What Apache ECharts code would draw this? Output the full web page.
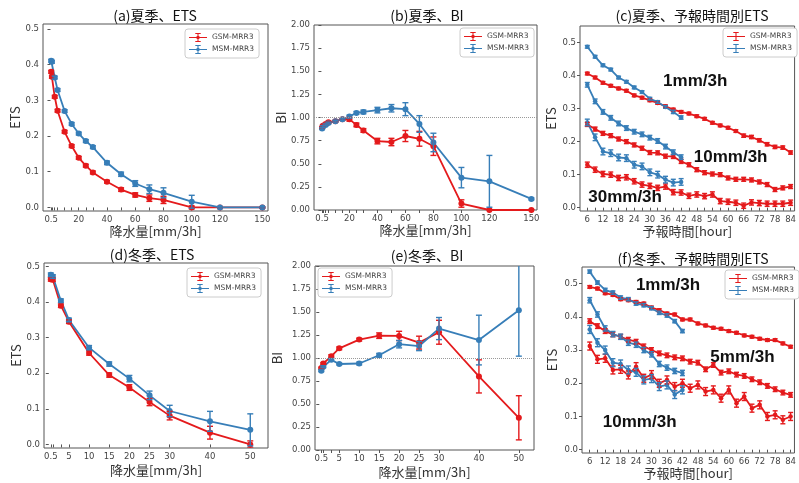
<!DOCTYPE html>
<html><head><meta charset="utf-8">
<script src="https://cdn.jsdelivr.net/npm/echarts@6/dist/echarts.min.js"></script>
<style>html,body{margin:0;padding:0;background:#fff}#c{width:799px;height:483px}</style>
</head><body><div id="c"></div>
<script>
// ---------- data ----------
const thrSummer = [0.5,1,3,5,10,15,20,25,30,40,50,60,70,80,100,120,150];
const thrWinter = [0.5,1,3,5,10,15,20,25,30,40,50];
const labelsSummerX = [0.5,20,40,60,80,100,120,150];
const labelsWinterX = [0.5,5,10,15,20,25,30,40,50];
const etsTicks = [0,0.1,0.2,0.3,0.4,0.5];
const biTicks = [0,0.25,0.5,0.75,1,1.25,1.5,1.75,2];
const hoursGSM = [6,9,12,15,18,21,24,27,30,33,36,39,42,45,48,51,54,57,60,63,66,69,72,75,78,81,84];
const hoursMSM = [6,9,12,15,18,21,24,27,30,33,36,39,42];
const hourLabels = [6,12,18,24,30,36,42,48,54,60,66,72,78,84];

// (a) summer ETS
const aGSM = [0.380,0.366,0.310,0.271,0.212,0.172,0.139,0.117,0.098,0.072,0.050,0.035,0.026,0.021,0.0,0.0,0.0];
const aGSMerr = [0.004,0.004,0.004,0.004,0.004,0.004,0.004,0.004,0.004,0.004,0.005,0.006,0.009,0.010,0.004,0.002,0.002];
const aMSM = [0.411,0.408,0.364,0.329,0.270,0.234,0.207,0.186,0.169,0.125,0.093,0.067,0.051,0.041,0.016,0.0,0.0];
const aMSMerr = [0.004,0.004,0.004,0.004,0.004,0.004,0.004,0.004,0.004,0.005,0.006,0.008,0.012,0.014,0.018,0.002,0.002];
// (b) summer BI
const bGSM = [0.89,0.91,0.93,0.95,0.96,0.98,0.98,0.92,0.86,0.745,0.735,0.80,0.77,0.69,0.07,0.0,0.0];
const bGSMerr = [0.01,0.01,0.01,0.01,0.01,0.01,0.02,0.02,0.02,0.03,0.04,0.06,0.08,0.10,0.04,0.005,0.005];
const bMSM = [0.88,0.90,0.92,0.94,0.96,0.98,1.01,1.05,1.06,1.08,1.10,1.09,0.93,0.73,0.35,0.31,0.12];
const bMSMerr = [0.01,0.01,0.01,0.01,0.01,0.01,0.015,0.015,0.02,0.03,0.04,0.07,0.09,0.10,0.11,0.28,0.01];
// (c) summer ETS by lead time
const cGSM1 = [0.406,0.394,0.378,0.369,0.361,0.354,0.340,0.333,0.325,0.317,0.307,0.297,0.290,0.285,0.277,0.269,0.257,0.249,0.242,0.232,0.218,0.214,0.204,0.192,0.184,0.182,0.167];
const cGSM1err = [0.004,0.004,0.004,0.004,0.004,0.004,0.004,0.004,0.004,0.004,0.004,0.004,0.004,0.004,0.004,0.004,0.004,0.004,0.004,0.004,0.005,0.005,0.005,0.005,0.005,0.005,0.005];
const cGSM10 = [0.252,0.238,0.225,0.218,0.208,0.200,0.190,0.180,0.167,0.166,0.156,0.155,0.140,0.130,0.115,0.106,0.102,0.100,0.090,0.086,0.086,0.084,0.078,0.070,0.055,0.060,0.064];
const cGSM10err = [0.006,0.006,0.006,0.006,0.006,0.006,0.006,0.006,0.006,0.006,0.006,0.006,0.006,0.006,0.006,0.006,0.006,0.006,0.006,0.006,0.006,0.006,0.006,0.006,0.006,0.006,0.006];
const cGSM30 = [0.130,0.115,0.102,0.100,0.090,0.092,0.080,0.070,0.066,0.060,0.064,0.047,0.046,0.036,0.040,0.035,0.040,0.020,0.018,0.015,0.006,0.016,0.014,0.012,0.012,0.012,0.015];
const cGSM30err = [0.008,0.008,0.008,0.008,0.008,0.008,0.008,0.008,0.008,0.008,0.008,0.008,0.008,0.008,0.008,0.008,0.008,0.008,0.008,0.008,0.008,0.008,0.008,0.008,0.008,0.008,0.008];
const cMSM1 = [0.487,0.457,0.431,0.418,0.394,0.381,0.364,0.350,0.330,0.320,0.305,0.290,0.273];
const cMSM1err = [0.004,0.004,0.004,0.004,0.004,0.004,0.004,0.004,0.004,0.004,0.004,0.005,0.005];
const cMSM10 = [0.372,0.322,0.290,0.272,0.255,0.241,0.230,0.222,0.212,0.202,0.185,0.168,0.153];
const cMSM10err = [0.007,0.007,0.007,0.007,0.007,0.007,0.007,0.007,0.007,0.007,0.007,0.007,0.007];
const cMSM30 = [0.258,0.213,0.170,0.165,0.152,0.150,0.130,0.125,0.107,0.100,0.085,0.076,0.078];
const cMSM30err = [0.010,0.010,0.010,0.010,0.010,0.010,0.010,0.010,0.010,0.010,0.010,0.010,0.010];
// (d) winter ETS
const dGSM = [0.464,0.463,0.390,0.345,0.257,0.195,0.160,0.119,0.081,0.033,0.0];
const dGSMerr = [0.005,0.005,0.005,0.005,0.006,0.006,0.008,0.010,0.012,0.018,0.010];
const dMSM = [0.477,0.472,0.404,0.350,0.272,0.226,0.185,0.138,0.094,0.065,0.041];
const dMSMerr = [0.005,0.005,0.005,0.005,0.006,0.006,0.009,0.012,0.016,0.028,0.045];
// (e) winter BI
const eGSM = [0.89,0.94,1.02,1.105,1.20,1.243,1.24,1.167,1.28,0.80,0.35];
const eGSMerr = [0.01,0.01,0.015,0.015,0.015,0.03,0.05,0.07,0.13,0.18,0.24];
const eMSM = [0.862,0.905,0.98,0.935,0.94,1.03,1.15,1.13,1.32,1.195,1.52];
const eMSMerr = [0.01,0.01,0.015,0.01,0.015,0.02,0.04,0.05,0.12,0.27,0.50];
// (f) winter ETS by lead time
const fGSM1 = [0.490,0.485,0.471,0.466,0.453,0.450,0.445,0.440,0.428,0.420,0.410,0.407,0.392,0.392,0.380,0.374,0.367,0.364,0.357,0.352,0.344,0.340,0.334,0.330,0.330,0.320,0.310];
const fGSM1err = [0.004,0.004,0.004,0.004,0.004,0.004,0.004,0.004,0.004,0.004,0.004,0.004,0.004,0.004,0.004,0.004,0.004,0.004,0.004,0.004,0.004,0.004,0.004,0.004,0.004,0.004,0.004];
const fGSM5 = [0.387,0.372,0.357,0.347,0.340,0.331,0.325,0.311,0.300,0.290,0.284,0.278,0.275,0.265,0.262,0.242,0.255,0.232,0.236,0.226,0.222,0.212,0.203,0.192,0.182,0.172,0.165];
const fGSM5err = [0.007,0.007,0.007,0.007,0.007,0.007,0.007,0.007,0.007,0.007,0.007,0.007,0.007,0.007,0.007,0.007,0.007,0.007,0.007,0.007,0.007,0.007,0.007,0.007,0.007,0.007,0.007];
const fGSM10 = [0.312,0.272,0.275,0.240,0.242,0.225,0.250,0.215,0.226,0.200,0.210,0.190,0.200,0.185,0.195,0.175,0.180,0.155,0.180,0.140,0.160,0.125,0.135,0.100,0.105,0.090,0.100];
const fGSM10err = [0.012,0.012,0.012,0.012,0.012,0.012,0.012,0.012,0.012,0.012,0.012,0.012,0.012,0.012,0.012,0.012,0.012,0.012,0.012,0.012,0.012,0.012,0.012,0.012,0.012,0.012,0.012];
const fMSM1 = [0.536,0.503,0.481,0.473,0.458,0.453,0.440,0.435,0.426,0.412,0.404,0.387,0.357];
const fMSM1err = [0.005,0.005,0.005,0.005,0.005,0.005,0.005,0.005,0.005,0.005,0.005,0.005,0.005];
const fMSM5 = [0.450,0.407,0.365,0.348,0.340,0.322,0.316,0.300,0.287,0.258,0.247,0.237,0.231];
const fMSM5err = [0.008,0.008,0.008,0.008,0.008,0.008,0.008,0.008,0.008,0.008,0.008,0.008,0.008];
const fMSM10 = [0.362,0.322,0.300,0.262,0.258,0.240,0.233,0.210,0.214,0.190,0.195,0.166,0.180];
const fMSM10err = [0.012,0.012,0.012,0.012,0.012,0.012,0.012,0.012,0.012,0.012,0.012,0.012,0.012];

const titles = ['(a)夏季、ETS','(b)夏季、BI','(c)夏季、予報時間別ETS','(d)冬季、ETS','(e)冬季、BI','(f)冬季、予報時間別ETS'];
const GSM = 'GSM-MRR3', MSM = 'MSM-MRR3';

// ---------- styling / layout ----------
const RED = '#e41a1c', BLUE = '#377eb8';
const AX = '#555', TXT = '#444';
const CJK = '"Noto Sans CJK JP", "Noto Sans", sans-serif';
const NUM = '"DejaVu Sans", sans-serif';

const grids = [
  {left:43, top:24, width:225, height:187},
  {left:314, top:25, width:223, height:185},
  {left:580, top:26, width:219, height:185},
  {left:44, top:263, width:224, height:185},
  {left:315, top:266, width:219, height:184},
  {left:582, top:267, width:217, height:186}
];
const xr = [[-5.3,154],[-5.3,154],[3.2,85.53],[-1.19,54.4],[-1.08,53.8],[3.0,85.5]];
const yr = [[-0.01,0.514],[0,2],[-0.01,0.55],[-0.01,0.51],[0,2],[-0.01,0.55]];
const xTicks = [thrSummer,thrSummer,hoursGSM,thrWinter,thrWinter,hoursGSM];
const xLabels = [labelsSummerX,labelsSummerX,hourLabels,labelsWinterX,labelsWinterX,hourLabels];
const yTicks = [etsTicks,biTicks,etsTicks,etsTicks,biTicks,etsTicks];
const yNames = ['ETS','BI','ETS','ETS','BI','ETS'];
const yGaps = [21,26,22,21,31,23];
const xNames = ['降水量[mm/3h]','降水量[mm/3h]','予報時間[hour]','降水量[mm/3h]','降水量[mm/3h]','予報時間[hour]'];
const xGaps = [11,11,11,16,16,12];

const xAxis = grids.map((g,i)=>({
  type:'value', gridIndex:i, min:xr[i][0], max:xr[i][1],
  axisLine:{show:false}, splitLine:{show:false},
  axisTick:{show:true, length:3, lineStyle:{color:AX}, customValues:xTicks[i]},
  axisLabel:{customValues:xLabels[i], fontSize:8.5, color:TXT, fontFamily:NUM, margin:4},
  name:xNames[i], nameLocation:'middle', nameGap:xGaps[i],
  nameTextStyle:{fontSize:13, color:'#333', fontFamily:CJK}
}));
const yAxis = grids.map((g,i)=>({
  type:'value', gridIndex:i, min:yr[i][0], max:yr[i][1],
  axisLine:{show:false}, splitLine:{show:false},
  axisTick:{show:true, length:3, lineStyle:{color:AX}, customValues:yTicks[i]},
  axisLabel:{customValues:yTicks[i], fontSize:8.5, color:TXT, fontFamily:NUM, margin:4,
    formatter: v => yNames[i]==='BI' ? v.toFixed(2) : v.toFixed(1)},
  name:yNames[i], nameLocation:'middle', nameGap:yGaps[i], nameRotate:90,
  nameTextStyle:{fontSize:13, color:'#333', fontFamily:CJK}
}));

function line(name, gi, xs, ys, color, size, extra){
  return Object.assign({
    type:'line', name, xAxisIndex:gi, yAxisIndex:gi,
    data: xs.map((x,k)=>[x, ys[k]]),
    lineStyle:{color, width:1.8}, itemStyle:{color},
    symbol:'circle', symbolSize:size, showSymbol:true, z:3
  }, extra||{});
}
function err(gi, xs, ys, es, color, cw){
  return {
    type:'custom', name:'err', xAxisIndex:gi, yAxisIndex:gi, clip:true, z:4,
    data: xs.map((x,k)=>[x, ys[k], es[k]]),
    encode:{x:0, y:1},
    renderItem:(params, api)=>{
      const x=api.value(0), y=api.value(1), e=api.value(2);
      const t=api.coord([x,y+e]), b=api.coord([x,y-e]);
      const st={stroke:color, lineWidth:1.4};
      return {type:'group', children:[
        {type:'line', shape:{x1:t[0],y1:t[1],x2:b[0],y2:b[1]}, style:st},
        {type:'line', shape:{x1:t[0]-cw,y1:t[1],x2:t[0]+cw,y2:t[1]}, style:st},
        {type:'line', shape:{x1:b[0]-cw,y1:b[1],x2:b[0]+cw,y2:b[1]}, style:st}
      ]};
    }
  };
}
function ann(text, coord){
  return {coord, symbol:'circle', symbolSize:0,
    label:{show:true, position:'inside', formatter:text, fontSize:17, fontWeight:'bold',
      color:'#111', fontFamily:'"Liberation Sans", Arial, sans-serif'}};
}
const refLine = {silent:true, symbol:['none','none'], label:{show:false},
  lineStyle:{type:'dotted', color:'#999', width:1}, data:[{yAxis:1}]};

const series = [
  // a
  line(GSM,0,thrSummer,aGSM,RED,6), err(0,thrSummer,aGSM,aGSMerr,RED,3),
  line(MSM,0,thrSummer,aMSM,BLUE,6), err(0,thrSummer,aMSM,aMSMerr,BLUE,3),
  // b
  line(GSM,1,thrSummer,bGSM,RED,6,{markLine:refLine}), err(1,thrSummer,bGSM,bGSMerr,RED,3),
  line(MSM,1,thrSummer,bMSM,BLUE,6), err(1,thrSummer,bMSM,bMSMerr,BLUE,3),
  // c
  line(GSM,2,hoursGSM,cGSM1,RED,4.5,{markPoint:{data:[ann('1mm/3h',[47.4,0.383]),ann('10mm/3h',[61,0.152]),ann('30mm/3h',[20.5,0.031])]}}),
  err(2,hoursGSM,cGSM1,cGSM1err,RED,2.5),
  line(GSM,2,hoursGSM,cGSM10,RED,4.5), err(2,hoursGSM,cGSM10,cGSM10err,RED,2.5),
  line(GSM,2,hoursGSM,cGSM30,RED,4.5), err(2,hoursGSM,cGSM30,cGSM30err,RED,2.5),
  line(MSM,2,hoursMSM,cMSM1,BLUE,4.5), err(2,hoursMSM,cMSM1,cMSM1err,BLUE,2.5),
  line(MSM,2,hoursMSM,cMSM10,BLUE,4.5), err(2,hoursMSM,cMSM10,cMSM10err,BLUE,2.5),
  line(MSM,2,hoursMSM,cMSM30,BLUE,4.5), err(2,hoursMSM,cMSM30,cMSM30err,BLUE,2.5),
  // d
  line(GSM,3,thrWinter,dGSM,RED,6), err(3,thrWinter,dGSM,dGSMerr,RED,3),
  line(MSM,3,thrWinter,dMSM,BLUE,6), err(3,thrWinter,dMSM,dMSMerr,BLUE,3),
  // e
  line(GSM,4,thrWinter,eGSM,RED,6,{markLine:refLine}), err(4,thrWinter,eGSM,eGSMerr,RED,3),
  line(MSM,4,thrWinter,eMSM,BLUE,6), err(4,thrWinter,eMSM,eMSMerr,BLUE,3),
  // f
  line(GSM,5,hoursGSM,fGSM1,RED,4.5,{markPoint:{data:[ann('1mm/3h',[36.4,0.495]),ann('5mm/3h',[65.3,0.278]),ann('10mm/3h',[25.4,0.081])]}}),
  err(5,hoursGSM,fGSM1,fGSM1err,RED,2.5),
  line(GSM,5,hoursGSM,fGSM5,RED,4.5), err(5,hoursGSM,fGSM5,fGSM5err,RED,2.5),
  line(GSM,5,hoursGSM,fGSM10,RED,4.5), err(5,hoursGSM,fGSM10,fGSM10err,RED,2.5),
  line(MSM,5,hoursMSM,fMSM1,BLUE,4.5), err(5,hoursMSM,fMSM1,fMSM1err,BLUE,2.5),
  line(MSM,5,hoursMSM,fMSM5,BLUE,4.5), err(5,hoursMSM,fMSM5,fMSM5err,BLUE,2.5),
  line(MSM,5,hoursMSM,fMSM10,BLUE,4.5), err(5,hoursMSM,fMSM10,fMSM10err,BLUE,2.5)
];

const iconDot = 'path://M0,4.4H20V5.6H0Z M9.4,0H10.6V10H9.4Z M7,0H13V1.1H7Z M7,8.9H13V10H7Z M12,5A2,2 0 1 1 8,5A2,2 0 1 1 12,5Z';
const iconBar = 'path://M0,4.4H20V5.6H0Z M9.4,0H10.6V10H9.4Z M7,0H13V1.1H7Z M7,8.9H13V10H7Z';
const legPos = [[185,29],[460,28],[723,28],[187,268],[318,268],[725,270]];
const legend = legPos.map((p,i)=>({
  left:p[0], top:p[1], orient:'vertical', data:[GSM,MSM],
  icon: (i===2||i===5) ? iconBar : iconDot,
  itemWidth:18, itemHeight:9, itemGap:3, padding:[4,5,4,4],
  borderColor:'#ccc', borderWidth:1, borderRadius:3, backgroundColor:'#fff',
  textStyle:{fontSize:7.5, color:'#444', fontFamily:NUM}, selectedMode:false
}));

const titlePos = [[155,9],[427,9],[692,9],[152,248],[427,249],[693,252]];
const title = titles.map((t,i)=>({
  text:t, left:titlePos[i][0], top:titlePos[i][1], textAlign:'center', padding:0,
  textStyle:{fontSize:14, fontWeight:'normal', color:'#111', fontFamily:CJK}
}));

const chart = echarts.init(document.getElementById('c'), null, {renderer:'canvas'});
chart.setOption({
  animation:false, backgroundColor:'#fff',
  title, legend,
  grid: grids.map(g=>Object.assign({show:true, borderColor:AX, borderWidth:1, backgroundColor:'transparent'}, g)),
  xAxis, yAxis, series
});
</script></body></html>
